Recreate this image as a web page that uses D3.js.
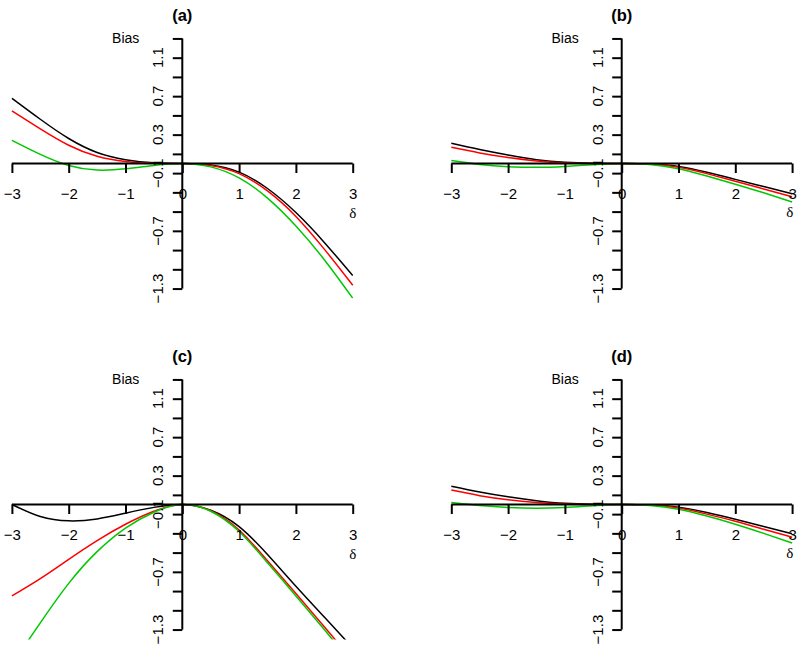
<!DOCTYPE html>
<html>
<head>
<meta charset="utf-8">
<script src="https://cdn.jsdelivr.net/npm/d3@7"></script>
<style>
  html, body { margin: 0; padding: 0; background: #fff; }
  svg { display: block; }
</style>
</head>
<body>
<svg id="chart" width="800" height="648"></svg>
<script>
// ---------------- data ----------------
const delta = [-3, -2.5, -2, -1.5, -1, -0.5, 0, 0.5, 1, 1.5, 2, 2.5, 3];
const xTicks = [-3, -2, -1, 0, 1, 2, 3];
const yTicks = [-1.3, -1.1, -0.9, -0.7, -0.5, -0.3, -0.1, 0.1, 0.3, 0.5, 0.7, 0.9, 1.1, 1.3];
const yLabels = [1.1, 0.7, 0.3, -0.1, -0.7, -1.3];
const panelTitles = ["(a)", "(b)", "(c)", "(d)"];
const seriesColors = ["#000000", "#ff0000", "#00c800"];

// panel (a)
const biasA_black = [0.678, 0.46, 0.26, 0.115, 0.04, 0.007, 0, -0.015, -0.09, -0.26, -0.51, -0.82, -1.165];
const biasA_red   = [0.546, 0.36, 0.19, 0.075, 0.02, 0.002, 0, -0.02, -0.105, -0.285, -0.55, -0.89, -1.265];
const biasA_green = [0.241, 0.095, -0.02, -0.068, -0.055, -0.02, 0, -0.035, -0.15, -0.36, -0.65, -1.0, -1.40];
// panel (b)
const biasB_black = [0.21, 0.145, 0.088, 0.04, 0.012, 0.002, 0, -0.005, -0.03, -0.09, -0.165, -0.24, -0.315];
const biasB_red   = [0.168, 0.11, 0.062, 0.027, 0.007, 0.001, 0, -0.006, -0.038, -0.105, -0.185, -0.265, -0.345];
const biasB_green = [0.03, -0.01, -0.033, -0.04, -0.03, -0.012, 0, -0.01, -0.055, -0.13, -0.215, -0.305, -0.40];
// panel (c)
const biasC_black = [0.0, -0.125, -0.17, -0.15, -0.09, -0.03, 0, -0.06, -0.23, -0.52, -0.85, -1.17, -1.49];
const biasC_red   = [-0.95, -0.77, -0.57, -0.375, -0.205, -0.07, 0, -0.065, -0.265, -0.585, -0.925, -1.27, -1.62];
const biasC_green = [-1.66, -1.23, -0.82, -0.49, -0.245, -0.08, 0, -0.07, -0.28, -0.605, -0.95, -1.30, -1.66];
// panel (d)
const biasD_black = [0.19, 0.13, 0.08, 0.04, 0.012, 0.002, 0, -0.005, -0.028, -0.083, -0.153, -0.228, -0.305];
const biasD_red   = [0.15, 0.092, 0.05, 0.022, 0.005, 0.001, 0, -0.006, -0.036, -0.1, -0.175, -0.257, -0.34];
const biasD_green = [0.02, -0.01, -0.03, -0.038, -0.03, -0.012, 0, -0.01, -0.05, -0.12, -0.205, -0.30, -0.40];

const panelSeries = [
  [biasA_black, biasA_red, biasA_green],
  [biasB_black, biasB_red, biasB_green],
  [biasC_black, biasC_red, biasC_green],
  [biasD_black, biasD_red, biasD_green]
];

// ---------------- layout ----------------
const svg = d3.select("#chart");
svg.append("rect").attr("width", 800).attr("height", 648).attr("fill", "#fff");

const origins = [
  {x: 182.3, y: 163.5},
  {x: 621.7, y: 163.5},
  {x: 182.3, y: 504.5},
  {x: 621.7, y: 504.5}
];
const pxPerX = 56.8, pxPerY = 96.2;
const xLim = 3.24, yLim = 1.404;
const sans = "'Liberation Sans', Arial, Helvetica, sans-serif";
const fmt = v => v < 0 ? "\u2212" + Math.abs(v) : String(v);

origins.forEach((o, i) => {
  const x = d3.scaleLinear().domain([-xLim, xLim]).range([o.x - xLim * pxPerX, o.x + xLim * pxPerX]);
  const y = d3.scaleLinear().domain([-yLim, yLim]).range([o.y + yLim * pxPerY, o.y - yLim * pxPerY]);
  const g = svg.append("g");

  const clipId = "clip" + i;
  g.append("clipPath").attr("id", clipId).append("rect")
    .attr("x", x(-xLim)).attr("y", y(yLim))
    .attr("width", x(xLim) - x(-xLim)).attr("height", y(-yLim) - y(yLim));

  // curves
  const line = d3.line()
    .x((d, k) => x(delta[k]))
    .y(d => y(d))
    .curve(d3.curveNatural);
  const curves = g.append("g").attr("clip-path", `url(#${clipId})`);
  panelSeries[i].forEach((vals, s) => {
    curves.append("path")
      .attr("d", line(vals))
      .attr("fill", "none")
      .attr("stroke", seriesColors[s])
      .attr("stroke-width", 1.5);
  });

  // x axis through origin
  const xAxis = d3.axisBottom(x).tickValues(xTicks).tickSize(9.5).tickPadding(15).tickFormat(fmt);
  const gx = g.append("g").attr("transform", `translate(0,${y(0)})`).call(xAxis);
  gx.select(".domain").attr("d", `M${x(-3)},0H${x(3)}`).attr("stroke-width", 2);
  gx.selectAll(".tick line").attr("stroke-width", 2);
  gx.selectAll("text").attr("font-size", 15).attr("font-family", sans).attr("fill", "#000");

  // y axis through origin
  const yAxis = d3.axisLeft(y).tickValues(yTicks).tickSize(9.5).tickFormat("");
  const gy = g.append("g").attr("transform", `translate(${x(0)},0)`).call(yAxis);
  gy.select(".domain").attr("d", `M0,${y(1.3)}V${y(-1.3)}`).attr("stroke-width", 2);
  gy.selectAll(".tick line").attr("stroke-width", 2);

  // rotated y labels
  yLabels.forEach(v => {
    const lx = x(0) - 19, ly = y(v);
    g.append("text")
      .attr("x", lx).attr("y", ly)
      .attr("transform", `rotate(-90,${lx},${ly})`)
      .attr("text-anchor", "middle")
      .attr("font-family", sans).attr("font-size", 15)
      .text(fmt(v));
  });

  // Bias label
  g.append("text")
    .attr("x", x(0) - 43).attr("y", y(1.3) + 5)
    .attr("text-anchor", "end")
    .attr("font-family", sans).attr("font-size", 14)
    .text("Bias");

  // delta label
  const right = i % 2 === 1;
  g.append("text")
    .attr("x", x(right ? 2.96 : 3.0)).attr("y", y(0) + (right ? 53 : 54))
    .attr("text-anchor", "middle")
    .attr("font-family", "'Liberation Serif', 'Times New Roman', serif").attr("font-size", 15)
    .text("\u03b4");

  // title
  g.append("text")
    .attr("x", x(0)).attr("y", y(1.3) - 17.5)
    .attr("text-anchor", "middle")
    .attr("font-family", sans).attr("font-size", 16.5).attr("font-weight", "bold")
    .text(panelTitles[i]);
});
</script>
</body>
</html>
